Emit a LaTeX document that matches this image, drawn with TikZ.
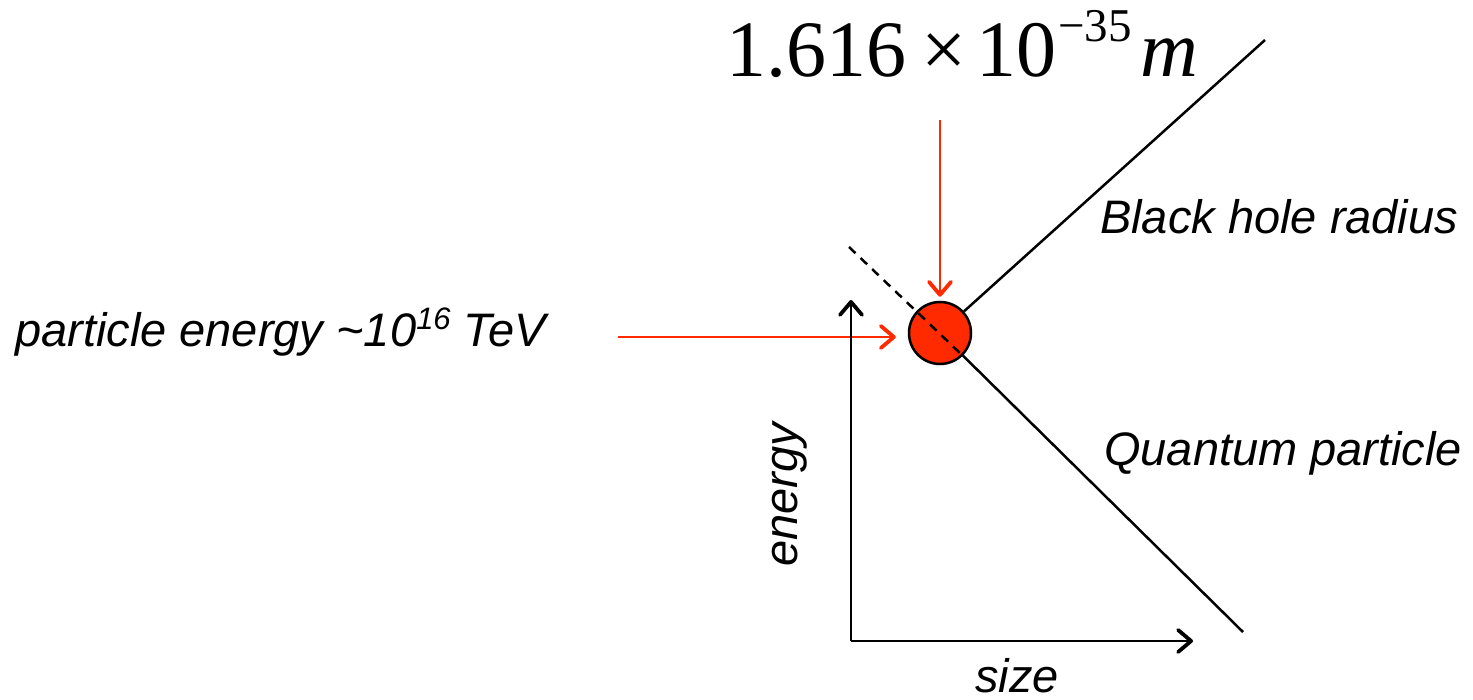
\documentclass[tikz,border=0pt]{standalone}
\usepackage{fontspec}
\setmainfont{Liberation Sans}
\newfontfamily\serifnum{Liberation Serif}
\usetikzlibrary{arrows.meta}
\definecolor{hotred}{RGB}{255,42,0}
\begin{document}
\begin{tikzpicture}[x=1pt,y=-1pt,
  lbl/.style={font=\fontsize{47}{51}\selectfont\itshape, inner sep=0pt},
  blk/.style={line width=2.5pt, black},
  barb/.style={-{Straight Barb[length=13pt,width=22pt,line width=3.8pt,round]}},
  redarrow/.style={line width=2pt, hotred, barb},
  axisarrow/.style={line width=2pt, black, barb}]
\useasboundingbox (0,0) rectangle (1473,700);
% circle
\node[circle, draw, line width=2.5pt, fill=hotred, minimum size=62pt, inner sep=0pt] (c) at (940,333) {};
% lines
\coordinate (bhend) at (1265,40);
\coordinate (qpend) at (1243,632);
\draw[blk] (c) -- (bhend);
\draw[blk] (c) -- (qpend);
\coordinate (dA) at (849,247);
\coordinate (dB) at (962,355);
\draw[blk, dash pattern=on 9pt off 7pt] (dA) -- (dB);
% red arrows
\coordinate (pltop) at (940,120);
\draw[redarrow, shorten >=4pt] (pltop) -- (pltop |- c.north);
\coordinate (pestart) at (618,337);
\draw[redarrow, shorten >=12pt] (pestart) -- (pestart -| c.west);
% axes
\coordinate (o) at (851,641);
\coordinate (ytop) at (851,300);
\coordinate (xend) at (1193,641);
\draw[axisarrow] (o) -- (ytop);
\draw[axisarrow] (o) -- (xend);
% texts
\node[inner sep=0pt, anchor=base west, font=\serifnum\fontsize{80}{86}\selectfont] (planck) at (726,77)
  {1.616\hspace{15pt}×\hspace{10pt}10\hspace{2pt}\raisebox{35pt}{\fontsize{47}{50}\selectfont −35}\hspace{9pt}\textit{m}};
\node[lbl, anchor=base west] (bhr) at (1100,234) {Black hole radius};
\node[lbl, anchor=base west] (qp) at (1104,465) {Quantum particle};
\node[lbl, anchor=base west] (pe) at (15,347) {particle energy \textasciitilde10\raisebox{17pt}{\fontsize{31}{33}\selectfont 16} TeV};
\node[lbl, rotate=90] (en) at (790,495) {energy};
\node[lbl, anchor=base] (sz) at (1017,692) {size};
\end{tikzpicture}
\end{document}
